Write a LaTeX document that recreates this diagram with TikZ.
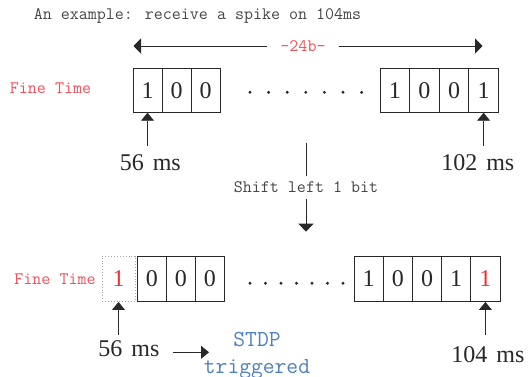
\documentclass[tikz,border=0pt]{standalone}
\usepackage{fontspec}
\setmainfont{Liberation Serif}
\usetikzlibrary{arrows.meta}
\definecolor{redtxt}{RGB}{240,80,90}
\definecolor{redone}{RGB}{240,45,55}
\definecolor{bluetxt}{RGB}{79,129,189}
\definecolor{graytxt}{RGB}{70,70,70}
\definecolor{linec}{RGB}{40,40,40}
\newcommand\lblfont{\fontsize{24}{28}\selectfont\spaceskip 9pt\relax}
\begin{document}
\begin{tikzpicture}[x=1pt,y=-1pt,
  cell/.style={draw=linec,line width=0.9pt,minimum height=44pt,inner sep=0pt,text=linec,font=\fontsize{24}{28}\selectfont},
  dotcell/.style={draw=gray!70,dotted,line width=0.9pt,minimum height=45.5pt,minimum width=33pt,inner sep=0pt,text=redone,font=\fontsize{24}{28}\selectfont},
  small/.style={inner sep=0pt,font=\ttfamily\fontsize{17.5}{20}\selectfont},
  lbl/.style={inner xsep=0pt,text=linec,font=\lblfont},
  arr/.style={-{Triangle[length=8pt,width=13pt]},line width=0.9pt,draw=linec},
  arrw/.style={-{Triangle[length=7.5pt,width=15pt]},line width=0.9pt,draw=linec},
  dotmark/.style={fill=linec}]
\useasboundingbox (0,0) rectangle (531,377);
\fill[white] (0,0) rectangle (531,377);

% title
\node[small,text=graytxt] (ti) at (197.5,16) {An example: receive a spike on 104ms};

% width arrow
\node[small,text=redtxt,inner xsep=13pt] (w) at (303,46) {-24b-};
\coordinate (wl) at (133.5,46);
\coordinate (wr) at (482.5,46);
\draw[arrw] (w.west) -- (wl);
\draw[arrw] (w.east) -- (wr);

% top row
\node[small,text=redtxt] (ft1) at (50.5,88) {Fine Time};
\node[cell,minimum width=29pt] (t1) at (147.5,90.3) {1};
\node[cell,minimum width=29pt] (t2) at (176.5,90.3) {0};
\node[cell,minimum width=29pt] (t3) at (205.5,90.3) {0};
\foreach \i in {0,...,6} \fill[dotmark] (250+\i*18.6,92.3) circle (1.6pt);
\node[cell,minimum width=29.6pt] (t4) at (394.8,90.3) {1};
\node[cell,minimum width=29.6pt] (t5) at (424.4,90.3) {0};
\node[cell,minimum width=29.6pt] (t6) at (454,90.3) {0};
\node[cell,minimum width=29.6pt] (t7) at (483.6,90.3) {1};

\node[lbl,inner ysep=9pt] (la) at (150.3,163) {56 ms};
\node[lbl,inner ysep=9pt] (lb) at (477.8,163) {102 ms};
\draw[arr] (t1.south |- la.north) -- (t1.south);
\draw[arr] (t7.south |- lb.north) -- (t7.south);

% shift
\node[small,text=graytxt,inner ysep=6pt] (sh) at (306,187.3) {Shift left 1 bit};
\coordinate (sa) at (306,143);
\coordinate (sb) at (306,231.7);
\draw[line width=0.9pt,draw=linec] (sa) -- (sh.north);
\draw[arr,-{Triangle[length=8pt,width=15pt]}] (sh.south) -- (sb);

% bottom row
\node[small,text=redtxt] (ft2) at (55,279) {Fine Time};
\node[dotcell] (b0) at (118.5,278.8) {1};
\node[cell,minimum width=29pt,minimum height=45.5pt] (b1) at (151.8,278.8) {0};
\node[cell,minimum width=29pt,minimum height=45.5pt] (b2) at (180.8,278.8) {0};
\node[cell,minimum width=29pt,minimum height=45.5pt] (b3) at (209.8,278.8) {0};
\foreach \i in {0,...,6} \fill[dotmark] (250+\i*15.5,283.3) circle (1.6pt);
\node[cell,minimum width=29.2pt,minimum height=45.5pt] (b4) at (368.6,278.8) {1};
\node[cell,minimum width=29.2pt,minimum height=45.5pt] (b5) at (397.8,278.8) {0};
\node[cell,minimum width=29.2pt,minimum height=45.5pt] (b6) at (427,278.8) {0};
\node[cell,minimum width=29.2pt,minimum height=45.5pt] (b7) at (456.2,278.8) {1};
\node[cell,minimum width=29.2pt,minimum height=45.5pt,text=redone] (b8) at (485.4,278.8) {1};

\node[lbl,inner ysep=6pt] (lc) at (129,349) {56 ms};
\node[lbl,inner ysep=12pt] (ld) at (488,355) {104 ms};
\draw[arr] (b0.south |- lc.north) -- (b0.south);
\draw[arr] (b8.south |- ld.north) -- (b8.south);

% STDP
\node[anchor=north,inner sep=0pt,align=center,text=bluetxt,font=\ttfamily\fontsize{22.9}{27}\selectfont] (st) at (257,332) {STDP\\triggered};
\coordinate (ta) at (172.7,352.3);
\coordinate (tb) at (209,352.3);
\draw[arr] (ta) -- (tb);
\end{tikzpicture}
\end{document}
